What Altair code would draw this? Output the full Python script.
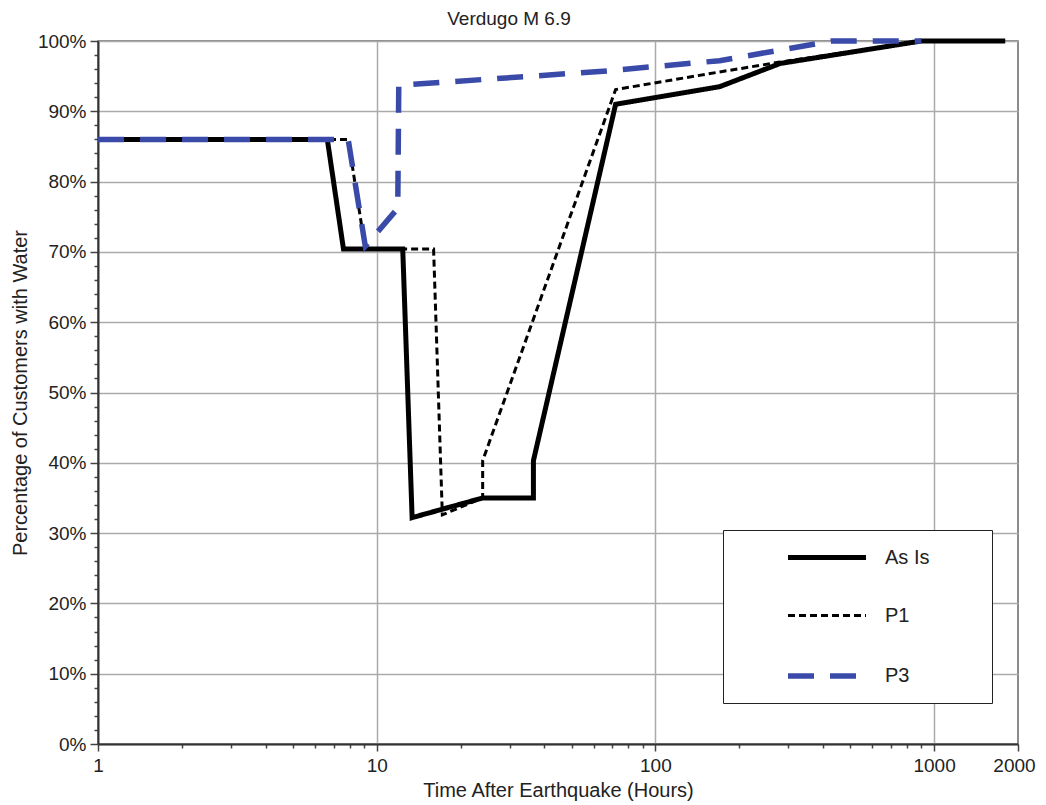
import altair as alt
import pandas as pd

series_names = ["As Is", "P1", "P3"]

as_is_t = [1, 6.65, 7.6, 12.4, 13.4, 24, 36.5, 36.5, 72, 170, 280, 900, 1800]
as_is_v = [86, 86, 70.4, 70.4, 32.2, 35, 35, 40.3, 91, 93.5, 96.8, 100, 100]

p1_t = [1, 7.9, 9.1, 16.0, 17.2, 24, 24, 72, 170, 280, 900]
p1_v = [86, 86, 70.4, 70.4, 32.6, 35, 40.3, 93.1, 95.6, 97.0, 100]

p3_t = [1, 7.9, 9.1, 11.9, 12.0, 65, 170, 430, 900]
p3_v = [86, 86, 70.8, 76.2, 93.7, 95.7, 97.2, 100, 100]

x_major = [1, 10, 100, 1000, 2000]
x_grid = [10, 100, 1000]
x_ticks = [d * m for d in (1, 10, 100) for m in range(1, 10)] + [1000, 2000]
y_ticks = list(range(0, 101, 2))

rows = []
for name, ts, vs in [("As Is", as_is_t, as_is_v), ("P1", p1_t, p1_v), ("P3", p3_t, p3_v)]:
    for i, (t, v) in enumerate(zip(ts, vs)):
        rows.append({"series": name, "t": t, "v": v, "i": i})
df = pd.DataFrame(rows)

FONT = "Liberation Sans"

x_major_test = "indexof(" + str(x_major) + ", datum.value) >= 0"
x_grid_test = "indexof(" + str(x_grid) + ", datum.value) >= 0"

chart = alt.Chart(df).mark_line(strokeCap="butt", strokeJoin="miter").encode(
    x=alt.X("t:Q",
            scale=alt.Scale(type="log", domain=[1, 2000]),
            axis=alt.Axis(values=x_ticks,
                          labelExpr=x_major_test + " ? '' + datum.value : ''",
                          tickSize={"condition": {"test": x_major_test, "value": 7}, "value": 4},
                          gridOpacity={"condition": {"test": x_grid_test, "value": 1}, "value": 0},
                          labelOffset={"condition": {"test": "datum.value == 2000", "value": -4}, "value": 0},
                          title="Time After Earthquake (Hours)",
                          labelFlush=False, labelOverlap=False,
                          labelPadding=5, titlePadding=5)),
    y=alt.Y("v:Q",
            scale=alt.Scale(domain=[0, 100]),
            axis=alt.Axis(values=y_ticks,
                          labelExpr="datum.value % 10 == 0 ? datum.value + '%' : ''",
                          tickSize={"condition": {"test": "datum.value % 10 == 0", "value": 8}, "value": 4},
                          gridOpacity={"condition": {"test": "datum.value % 10 == 0", "value": 1}, "value": 0},
                          title="Percentage of Customers with Water",
                          labelOverlap=False, labelPadding=4, titlePadding=7)),
    color=alt.Color("series:N",
                    scale=alt.Scale(domain=series_names, range=["#000000", "#000000", "#3a4aa8"]),
                    legend=alt.Legend(title=None)),
    strokeDash=alt.StrokeDash("series:N",
                              scale=alt.Scale(domain=series_names, range=[[1, 0], [7, 4], [26, 16]]),
                              legend=alt.Legend(title=None)),
    strokeWidth=alt.StrokeWidth("series:N",
                                scale=alt.Scale(type="ordinal", domain=series_names, range=[5, 3, 5.5]),
                                legend=alt.Legend(title=None)),
    order="i:Q",
).properties(
    width=920,
    height=703,
    autosize=alt.AutoSizeParams(type="none"),
    padding={"left": 90, "top": 33, "right": 20, "bottom": 58},
    title=alt.TitleParams("Verdugo M 6.9", font=FONT, fontSize=19, fontWeight="normal",
                          color="#222", anchor="middle", dx=-49, offset=1, frame="group"),
).configure_view(
    stroke="#666", strokeWidth=1.5
).configure_axis(
    labelFont=FONT, labelFontSize=19, labelColor="#222",
    titleFont=FONT, titleFontSize=20, titleFontWeight="normal", titleColor="#222",
    domainColor="#333", domainWidth=2,
    tickColor="#444", tickWidth=1.5,
    gridColor="#aaaaaa", gridWidth=1.5,
).configure_legend(
    orient="none", legendX=625, legendY=489, padding=0,
    strokeColor="#222", fillColor="white",
    symbolType="M-1.56,0H1.56M6.16,0M0,0.62", symbolSize=2500,
    symbolOffset=76, labelOffset=30, rowPadding=4, gridAlign="all",
    labelFont=FONT, labelFontSize=20, labelColor="#222",
)

chart.save("out.html", embed_options={"renderer": "svg", "actions": False})
